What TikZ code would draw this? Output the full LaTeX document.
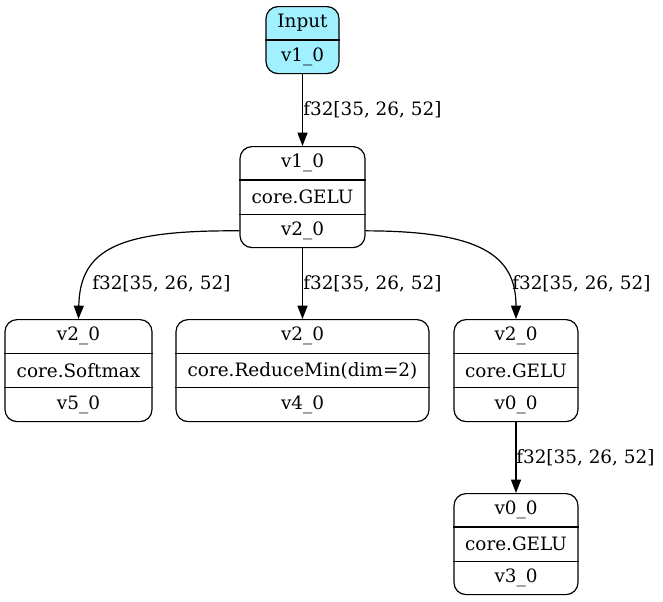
\documentclass[tikz,border=0pt]{standalone}
\usepackage{fontspec}
\setmainfont{DejaVu Serif}
\usetikzlibrary{arrows.meta,calc}
\definecolor{inputfill}{RGB}{160,240,255}
\tikzset{
  recbox/.style={draw, line width=0.9pt, rounded corners=9pt, inner sep=0pt},
  rowtxt/.style={inner sep=0pt, font=\fontsize{13.8}{16}\selectfont},
  edgelbl/.style={inner sep=0pt, anchor=west, font=\fontsize{13.8}{16}\selectfont},
  edge/.style={line width=0.9pt, -{Triangle[length=10pt,width=7.5pt]}},
}
% three-row record: name, centre x, top y, bottom y, width (px), texts
\newcommand{\threerec}[8]{%
  \node[recbox, minimum width={#5*0.75pt}, minimum height={(#4-#3)*0.75pt}, anchor=north] (#1) at (#2,#3) {};
  \draw[line width=0.9pt] ($(#1.north west)!1/3!(#1.south west)$) -- ($(#1.north east)!1/3!(#1.south east)$);
  \draw[line width=0.9pt] ($(#1.north west)!2/3!(#1.south west)$) -- ($(#1.north east)!2/3!(#1.south east)$);
  \node[rowtxt] (#1-a) at ($(#1.north)!1/6!(#1.south)$) {#6};
  \node[rowtxt] (#1-b) at ($(#1.north)!1/2!(#1.south)$) {#7};
  \node[rowtxt] (#1-c) at ($(#1.north)!5/6!(#1.south)$) {#8};
}
\begin{document}
\begin{tikzpicture}[x=0.75pt,y=-0.75pt]
\useasboundingbox (0,0) rectangle (663,601);
% Input node
\node[recbox, fill=inputfill, minimum width={73*0.75pt}, minimum height={67*0.75pt}, anchor=north] (inp) at (302.5,6) {};
\draw[line width=0.9pt] (inp.west |- 0,40) -- (inp.east |- 0,40);
\node[rowtxt] (inp-a) at (302.5,23) {Input};
\node[rowtxt] (inp-b) at (302.5,56.5) {v1\_0};
% records
\threerec{g1}{302.5}{146}{247}{125}{v1\_0}{core.GELU}{v2\_0}
\threerec{sm}{78.5}{319}{421}{147}{v2\_0}{core.Softmax}{v5\_0}
\threerec{rm}{302.5}{319}{421}{253}{v2\_0}{core.ReduceMin(dim=2)}{v4\_0}
\threerec{g2}{516}{319}{421}{124}{v2\_0}{core.GELU}{v0\_0}
\threerec{g3}{516}{493}{594}{124}{v0\_0}{core.GELU}{v3\_0}
% edge anchors
\coordinate (g1L) at ($(g1.north west)!0.83!(g1.south west)$);
\coordinate (g1R) at ($(g1.north east)!0.83!(g1.south east)$);
% edges
\draw[edge] (inp.south) -- (g1.north);
\node[edgelbl] (l1) at (303,110) {f32[35, 26, 52]};
\draw[edge] (g1L) .. controls (120,230) and (80,248) .. (sm.north);
\node[edgelbl] (l2) at (92,284) {f32[35, 26, 52]};
\draw[edge] (g1.south) -- (rm.north);
\node[edgelbl] (l3) at (303,284) {f32[35, 26, 52]};
\draw[edge] (g1R) .. controls (480,231) and (516,255) .. (g2.north);
\node[edgelbl] (l4) at (512,284) {f32[35, 26, 52]};
\draw[edge] (g2.south) -- (g3.north);
\node[edgelbl] (l5) at (516,458) {f32[35, 26, 52]};
\end{tikzpicture}
\end{document}
